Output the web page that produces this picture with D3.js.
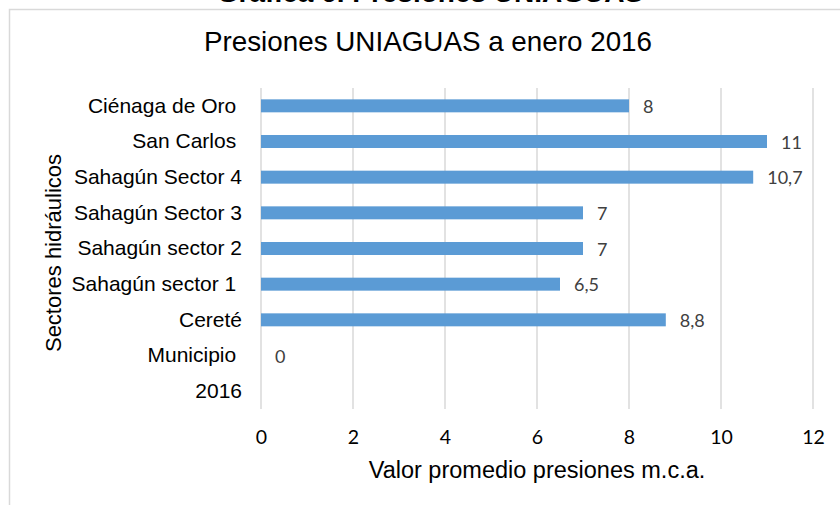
<!DOCTYPE html>
<html>
<head>
<meta charset="utf-8">
<script src="https://cdn.jsdelivr.net/npm/d3@7"></script>
<style>
  body { margin: 0; background: #fff; }
  svg text { white-space: pre; }
</style>
</head>
<body>
<svg id="chart"></svg>
<script>
// data
const sectores = ["Ciénaga de Oro ", "San Carlos ", "Sahagún Sector 4", "Sahagún Sector 3",
  "Sahagún sector 2", "Sahagún sector 1 ", "Cereté", "Municipio ", "2016"];
const presiones = [8, 11, 10.7, 7, 7, 6.5, 8.8, 0, null];
const xTicks = [0, 2, 4, 6, 8, 10, 12];

const width = 840, height = 505;
const plot = {left: 261, right: 813, top: 88, bottom: 409};

const svg = d3.select("#chart")
  .attr("width", width)
  .attr("height", height);

svg.append("rect")
  .attr("width", width).attr("height", height)
  .attr("fill", "#fff");

// caption of the document, cut at the top of the crop
svg.append("text")
  .attr("x", 430).attr("y", 2)
  .attr("text-anchor", "middle")
  .attr("font-family", "Liberation Sans, Arial, sans-serif")
  .attr("font-size", 28).attr("font-weight", "bold")
  .attr("fill", "#000")
  .text("Gráfica 6. Presiones UNIAGUAS");

// chart frame
svg.append("rect")
  .attr("x", 9.5).attr("y", 9.5)
  .attr("width", 900).attr("height", 600)
  .attr("fill", "none")
  .attr("stroke", "#d9d9d9")
  .attr("stroke-width", 1.5);

let x = d3.scaleLinear().domain([0, 12]).range([plot.left, plot.right]);
let y = d3.scaleBand()
  .domain(sectores)
  .range([plot.top, plot.bottom])
  .paddingInner(0.636)
  .paddingOuter(0.318);

// vertical gridlines
svg.append("g")
  .selectAll("line")
  .data(xTicks)
  .join("line")
  .attr("x1", d => x(d)).attr("x2", d => x(d))
  .attr("y1", plot.top).attr("y2", plot.bottom)
  .attr("stroke", "#d9d9d9")
  .attr("stroke-width", 1.5);

// x axis labels
const xAxis = d3.axisBottom(x).tickValues(xTicks).tickSize(0).tickPadding(0);
const gx = svg.append("g")
  .attr("transform", `translate(0,${plot.bottom + 21})`)
  .call(xAxis);
gx.select(".domain").remove();
gx.selectAll("text")
  .attr("font-family", "Lato, Carlito, Calibri, sans-serif")
  .attr("font-size", 19.5)
  .attr("fill", "#000");

// y axis labels
const yAxis = d3.axisLeft(y).tickSize(0).tickPadding(19);
const gy = svg.append("g")
  .attr("transform", `translate(${plot.left},0)`)
  .call(yAxis);
gy.select(".domain").remove();
gy.selectAll("text")
  .attr("font-family", "Liberation Sans, Arial, sans-serif")
  .attr("font-size", 21)
  .attr("fill", "#000");

const rows = sectores.map((s, i) => ({sector: s, valor: presiones[i]}));

// bars
svg.append("g")
  .selectAll("rect")
  .data(rows.filter(d => d.valor !== null))
  .join("rect")
  .attr("x", x(0))
  .attr("y", d => y(d.sector))
  .attr("width", d => x(d.valor) - x(0))
  .attr("height", y.bandwidth())
  .attr("fill", "#5b9bd5");

// value labels
const fmt = v => String(v).replace(".", ",");
svg.append("g")
  .selectAll("text")
  .data(rows.filter(d => d.valor !== null))
  .join("text")
  .attr("x", d => x(d.valor) + 14)
  .attr("y", d => y(d.sector) + y.bandwidth() / 2 + 7)
  .attr("font-family", "Lato, Carlito, Calibri, sans-serif")
  .attr("font-size", 18)
  .attr("fill", "#404040")
  .text(d => fmt(d.valor));

// title
svg.append("text")
  .attr("x", 428).attr("y", 51)
  .attr("text-anchor", "middle")
  .attr("font-family", "Liberation Sans, Arial, sans-serif")
  .attr("font-size", 27.8)
  .attr("fill", "#000")
  .text("Presiones UNIAGUAS a enero 2016");

// axis titles
svg.append("text")
  .attr("x", (plot.left + plot.right) / 2).attr("y", 478)
  .attr("text-anchor", "middle")
  .attr("font-family", "Liberation Sans, Arial, sans-serif")
  .attr("font-size", 23.5)
  .attr("fill", "#000")
  .text("Valor promedio presiones m.c.a.");

svg.append("text")
  .attr("transform", "translate(61,253) rotate(-90)")
  .attr("text-anchor", "middle")
  .attr("font-family", "Liberation Sans, Arial, sans-serif")
  .attr("font-size", 22)
  .attr("fill", "#000")
  .text("Sectores hidráulicos");
</script>
</body>
</html>
